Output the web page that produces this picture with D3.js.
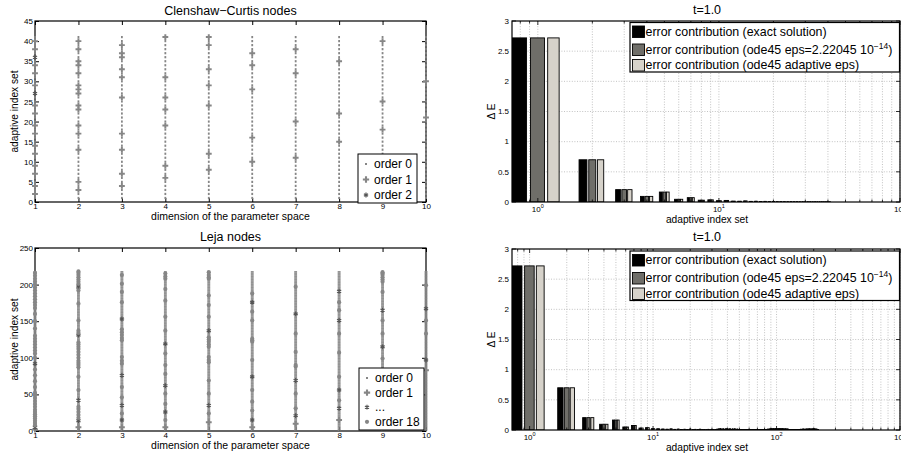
<!DOCTYPE html>
<html>
<head>
<meta charset="utf-8">
<script src="https://cdn.jsdelivr.net/npm/d3@7"></script>
<style>
  body { margin: 0; background: #fff; }
  text { font-family: "Liberation Sans", Arial, Helvetica, sans-serif; }
</style>
</head>
<body>
<div id="chart"></div>
<script>
// ---- data ----
const dims = [1, 2, 3, 4, 5, 6, 7, 8, 9, 10];
const ccCount = 41;
const lejaCount = 218;
const ccYTicks = [0, 5, 10, 15, 20, 25, 30, 35, 40, 45];
const lejaYTicks = [0, 50, 100, 150, 200, 250];
const errYTicks = [0, 0.5, 1, 1.5, 2, 2.5, 3];
const errYLabels = ["0", "0.5", "1", "1.5", "2", "2.5", "3"];
const topLogTicks = [1, 10, 100];
const bottomLogTicks = [1, 10, 100, 1000];

// [index set, order] for every refined node of a dimension (others are order 0)
const ccMarks = [
  [[2,1],[4,1],[7,1],[9,1],[12,1],[14,1],[17,1],[19,1],[22,1],[24,1],[27,2],[29,1],[32,1],[34,1],[36,2],[38,1],[40,1]],
  [[3,1],[5,1],[13,1],[17,1],[19,1],[23,1],[24,1],[27,1],[28,1],[29,1],[32,1],[34,1],[35,1],[38,1],[40,1]],
  [[4,1],[7,1],[13,1],[17,1],[26,1],[31,1],[33,1],[36,1],[37,1],[39,1]],
  [[6,1],[9,1],[19,1],[23,1],[26,1],[31,1],[41,1]],
  [[8,1],[12,1],[24,1],[29,1],[33,1],[39,1],[41,1]],
  [[10,1],[16,1],[28,1],[34,1],[37,1]],
  [[11,1],[20,1],[32,1],[38,1]],
  [[15,1],[22,1],[35,1]],
  [[18,1],[25,1],[40,1]],
  [[21,1],[30,1]]
];

const lejaMarks = [
  [[2,1],[5,2],[8,3],[11,4],[14,5],[17,6],[20,7],[23,8],[26,9],[29,10],[33,11],[37,12],[41,13],[45,14],[49,15],[52,16],[60,3],[68,4],[76,5],[84,6],[92,2],[100,7],[106,8],[110,9],[114,10],[118,11],[122,12],[126,13],[130,14],[140,5],[150,6],[160,3],[168,7],[172,8],[176,9],[180,10],[184,11],[188,12],[192,13],[196,14],[200,15],[204,16],[208,17],[212,18],[216,4]],
  [[5,1],[14,2],[18,3],[22,4],[26,5],[30,3],[33,6],[42,2],[56,3],[74,4],[87,3],[90,5],[93,6],[96,7],[100,4],[104,8],[108,5],[112,9],[115,6],[118,10],[121,3],[131,2],[134,4],[137,3],[151,5],[174,4],[192,3],[195,5],[198,2],[201,6],[204,4],[207,8],[210,3],[213,10],[216,18],[218,7]],
  [[5,1],[15,2],[24,3],[35,2],[46,4],[60,3],[76,2],[92,5],[96,6],[101,3],[124,4],[127,7],[131,5],[135,8],[139,3],[153,2],[176,4],[190,3],[201,5],[213,6]],
  [[5,1],[15,3],[26,2],[37,4],[51,3],[62,2],[78,5],[90,4],[106,3],[119,2],[137,6],[156,4],[178,3],[194,5],[208,7],[211,8],[215,6]],
  [[12,1],[24,3],[35,2],[51,4],[69,3],[94,5],[97,6],[101,4],[115,3],[118,7],[122,8],[125,5],[128,6],[137,2],[156,4],[172,3],[185,5],[208,6],[210,7],[213,9],[217,8]],
  [[5,1],[15,2],[28,3],[40,4],[56,3],[74,2],[97,5],[122,6],[124,9],[126,7],[151,3],[163,4],[176,2],[188,5]],
  [[10,1],[21,2],[31,3],[51,4],[69,2],[88,5],[90,6],[108,3],[133,4],[160,2],[197,5]],
  [[15,1],[31,2],[42,3],[56,2],[74,4],[107,3],[133,5],[151,2],[165,4],[176,3],[191,2]],
  [[65,1],[81,2],[99,3],[115,2],[133,4],[151,3],[165,2],[190,5],[204,6],[207,4],[210,7],[213,5],[215,8],[217,3]],
  [[83,1],[97,2],[133,3],[151,4],[167,2],[199,5]]
];

// error contributions, Clenshaw-Curtis run (41 index sets)
const ccErrExact = [2.72,0.70,0.205,0.093,0.165,0.045,0.072,0.030,0.036,0.022,0.026,0.014,0.012,0.018,0.010,0.012,0.008,0.010,0.007,0.008,0.006,0.007,0.005,0.004,0.006,0.004,0.005,0.003,0.004,0.003,0.003,0.004,0.002,0.003,0.002,0.002,0.003,0.002,0.002,0.002,0.001];
const ccErrEps   = [2.72,0.70,0.205,0.093,0.165,0.045,0.072,0.030,0.036,0.022,0.026,0.014,0.012,0.018,0.010,0.012,0.008,0.010,0.007,0.008,0.006,0.007,0.005,0.004,0.006,0.004,0.005,0.003,0.004,0.003,0.003,0.004,0.002,0.003,0.002,0.002,0.003,0.002,0.002,0.002,0.001];
const ccErrAdapt = [2.72,0.70,0.205,0.093,0.165,0.045,0.072,0.030,0.036,0.022,0.026,0.014,0.012,0.018,0.010,0.012,0.008,0.010,0.007,0.008,0.006,0.007,0.005,0.004,0.006,0.004,0.005,0.003,0.004,0.003,0.003,0.004,0.002,0.003,0.002,0.002,0.003,0.002,0.002,0.002,0.001];

// error contributions, Leja run (218 index sets): first 12 per series, then a common tail
const lejaErrExactHead = [2.72,0.70,0.205,0.095,0.165,0.050,0.075,0.032,0.038,0.022,0.020,0.015];
const lejaErrEpsHead   = [2.72,0.70,0.205,0.095,0.165,0.050,0.075,0.032,0.038,0.022,0.020,0.015];
const lejaErrAdaptHead = [2.72,0.70,0.205,0.095,0.165,0.050,0.075,0.032,0.038,0.022,0.020,0.015];
const lejaErrTail = [
  0.012,0.018,0.010,0.014,0.008,0.011,0.009,0.013,0.007,0.010,0.008,0.012,0.006,0.009,0.007,0.010,0.006,0.008,0.007,0.009,
  0.012,0.016,0.022,0.014,0.018,0.011,0.020,0.015,0.013,0.019,0.010,0.016,0.012,0.018,0.009,0.014,0.007,0.010,0.006,0.008,
  0.005,0.007,0.006,0.005,0.008,0.004,0.006,0.005,0.007,0.004,0.005,0.006,0.004,0.005,0.003,0.006,0.004,0.005,0.003,0.004,
  0.005,0.004,0.006,0.003,0.005,0.004,0.006,0.005,0.007,0.006,0.008,0.010,0.012,0.009,0.014,0.011,0.016,0.013,0.018,0.012,
  0.015,0.020,0.013,0.017,0.011,0.016,0.022,0.014,0.019,0.012,0.017,0.013,0.021,0.015,0.011,0.018,0.014,0.016,0.012,0.019,
  0.013,0.015,0.010,0.014,0.012,0.017,0.009,0.013,0.011,0.015,0.008,0.012,0.010,0.009,0.007,0.008,0.006,0.007,0.005,0.006,
  0.005,0.004,0.006,0.004,0.005,0.003,0.004,0.005,0.003,0.004,0.003,0.005,0.004,0.003,0.004,0.005,0.006,0.005,0.007,0.008,
  0.006,0.009,0.007,0.010,0.008,0.011,0.007,0.009,0.008,0.012,0.010,0.009,0.013,0.011,0.008,0.010,0.009,0.012,0.008,0.010,
  0.011,0.009,0.013,0.010,0.012,0.008,0.011,0.014,0.010,0.012,0.009,0.013,0.011,0.015,0.010,0.012,0.009,0.011,0.013,0.010,
  0.012,0.009,0.011,0.014,0.010,0.013,0.008,0.011,0.016,0.012,0.010,0.013,0.009,0.012,0.011,0.008,0.010,0.012,0.009,0.011,
  0.008,0.010,0.007,0.009,0.006,0.008
];
const lejaErrExact = lejaErrExactHead.concat(lejaErrTail);
const lejaErrEps = lejaErrEpsHead.concat(lejaErrTail);
const lejaErrAdapt = lejaErrAdaptHead.concat(lejaErrTail);

const seriesNames = [
  "error contribution (exact solution)",
  "error contribution (ode45 eps=2.22045 10",
  "error contribution (ode45 adaptive eps)"
];
const seriesColors = ["#000000", "#6f6e69", "#d6d2ca"];

// ---- drawing ----
const W = 901, H = 457;
const svg = d3.select("#chart").append("svg").attr("width", W).attr("height", H);
svg.append("rect").attr("width", W).attr("height", H).attr("fill", "#fff");

const gray = "#868686";

function drawMarker(g, cx, cy, order, big) {
  if (order === 1) {
    g.append("path").attr("transform", `translate(${cx},${cy})`)
      .attr("d", d3.symbol(d3.symbolCross, big ? 22 : 19)()).attr("fill", gray);
  } else if (order === 2) {
    g.append("path").attr("transform", `translate(${cx},${cy})`)
      .attr("d", d3.symbol(d3.symbolAsterisk, 16)())
      .attr("fill", "none").attr("stroke", "#555").attr("stroke-width", 1.2);
  } else {
    g.append("circle").attr("cx", cx).attr("cy", cy).attr("r", 2.1).attr("fill", gray);
  }
}

function nodesPanel(o) {
  const x = d3.scaleLinear().domain([1, 10]).range([35, 426]);
  const y = d3.scaleLinear().domain([0, o.ymax]).range([o.bottom, o.top]);
  const g = svg.append("g");

  // frame and inward ticks
  g.append("rect").attr("x", 35).attr("y", o.top).attr("width", 391).attr("height", o.bottom - o.top)
    .attr("fill", "none").attr("stroke", "#000").attr("stroke-width", 1.2);
  g.append("g").attr("transform", `translate(0,${o.bottom})`)
    .call(d3.axisBottom(x).tickValues(dims).tickSize(-4).tickPadding(1.5).tickFormat(d3.format("d")));
  g.append("g").attr("transform", `translate(0,${o.top})`)
    .call(d3.axisTop(x).tickValues(dims).tickSize(-4).tickFormat(""));
  g.append("g").attr("transform", "translate(35,0)")
    .call(d3.axisLeft(y).tickValues(o.yticks).tickSize(-4).tickPadding(2));
  g.append("g").attr("transform", "translate(426,0)")
    .call(d3.axisRight(y).tickValues(o.yticks).tickSize(-4).tickFormat(""));
  g.selectAll(".domain").remove();
  g.selectAll(".tick line").attr("stroke", "#000");
  g.selectAll(".tick text").attr("font-size", 8).attr("fill", "#000").attr("font-family", "Liberation Sans, Arial, sans-serif");

  // order 0 columns
  dims.forEach((d, i) => {
    const marked = new Set(o.marks[i].map(m => m[0]));
    const zeros = d3.range(1, o.count + 1).filter(k => !marked.has(k));
    g.append("g").selectAll("rect").data(zeros).join("rect")
      .attr("x", x(d) - o.dotW / 2).attr("y", k => y(k) - o.dotH / 2)
      .attr("width", o.dotW).attr("height", o.dotH).attr("fill", gray);
  });
  // refined nodes
  const mg = g.append("g");
  dims.forEach((d, i) => {
    o.marks[i].forEach(m => drawMarker(mg, x(d), y(m[0]), m[1], false));
  });

  // titles
  g.append("text").attr("x", 230.5).attr("y", o.titleY).attr("text-anchor", "middle")
    .attr("font-size", 12.5).text(o.title);
  g.append("text").attr("x", 230.5).attr("y", o.xlabY).attr("text-anchor", "middle")
    .attr("font-size", 10.5).text("dimension of the parameter space");
  g.append("text").attr("transform", `translate(18,${(o.top + o.bottom) / 2}) rotate(-90)`)
    .attr("text-anchor", "middle").attr("font-size", 10.2).text("adaptive index set");

  // legend
  const lg = g.append("g");
  lg.append("rect").attr("x", o.leg.x).attr("y", o.leg.y).attr("width", o.leg.w).attr("height", o.leg.h)
    .attr("fill", "#fff").attr("stroke", "#000").attr("stroke-width", 1);
  o.leg.rows.forEach((r, j) => {
    const cy = o.leg.y + 10 + j * o.leg.dy;
    if (r.order === 0) {
      lg.append("rect").attr("x", o.leg.x + 7).attr("y", cy - 1).attr("width", 2).attr("height", 2).attr("fill", gray);
    } else {
      drawMarker(lg, o.leg.x + 8, cy, r.order, true);
    }
    lg.append("text").attr("x", o.leg.x + 16).attr("y", cy + 4.2).attr("font-size", 12).text(r.label);
  });
}

nodesPanel({
  top: 21, bottom: 202, ymax: 45, yticks: ccYTicks, count: ccCount, marks: ccMarks,
  dotW: 1.8, dotH: 2.2, title: "Clenshaw\u2212Curtis nodes", titleY: 15, xlabY: 219.5,
  leg: { x: 358, y: 154, w: 59, h: 49, dy: 15.5,
    rows: [{order: 0, label: "order 0"}, {order: 1, label: "order 1"}, {order: 2, label: "order 2"}] }
});

nodesPanel({
  top: 248, bottom: 431, ymax: 250, yticks: lejaYTicks, count: lejaCount, marks: lejaMarks,
  dotW: 2.8, dotH: 0.85, title: "Leja nodes", titleY: 241, xlabY: 449,
  leg: { x: 359, y: 368, w: 65, h: 62, dy: 14.6,
    rows: [{order: 0, label: "order 0"}, {order: 1, label: "order 1"}, {order: 2, label: "..."}, {order: 18, label: "order 18"}] }
});

function errPanel(o) {
  const x = d3.scaleLog().domain([0.72, o.xmax]).range([512, 900]);
  const y = d3.scaleLinear().domain([0, 3]).range([o.bottom, o.top]);
  const g = svg.append("g");
  const clipId = "clip" + o.top;
  svg.append("clipPath").attr("id", clipId).append("rect")
    .attr("x", 512).attr("y", o.top).attr("width", 388).attr("height", o.bottom - o.top);

  // grid
  const allTicks = x.ticks();
  const grid = g.append("g").attr("stroke", "#b4b4b4").attr("stroke-width", 0.8).attr("stroke-dasharray", "1,1.6");
  grid.selectAll("line.v").data(allTicks).join("line").attr("class", "v")
    .attr("x1", d => x(d)).attr("x2", d => x(d)).attr("y1", o.top).attr("y2", o.bottom);
  grid.selectAll("line.h").data(errYTicks.slice(1, -1)).join("line").attr("class", "h")
    .attr("x1", 512).attr("x2", 900).attr("y1", d => y(d)).attr("y2", d => y(d));

  // bars
  const slot = 0.6667 / 3, bw = slot * 0.8;
  const bars = g.append("g").attr("clip-path", `url(#${clipId})`);
  o.series.forEach((vals, s) => {
    bars.append("g").selectAll("rect").data(vals).join("rect")
      .attr("x", (v, i) => x(i + 1 + (s - 1) * slot - bw / 2))
      .attr("width", (v, i) => x(i + 1 + (s - 1) * slot + bw / 2) - x(i + 1 + (s - 1) * slot - bw / 2))
      .attr("y", v => y(v)).attr("height", v => o.bottom - y(v))
      .attr("fill", seriesColors[s]).attr("stroke", "#000").attr("stroke-width", 0.9);
  });

  // frame + ticks
  g.append("rect").attr("x", 512).attr("y", o.top).attr("width", 388).attr("height", o.bottom - o.top)
    .attr("fill", "none").attr("stroke", "#000").attr("stroke-width", 1.2);
  const tk = g.append("g").attr("stroke", "#000").attr("stroke-width", 0.8);
  allTicks.forEach(t => {
    const len = o.majors.includes(t) ? 4 : 2.5;
    tk.append("line").attr("x1", x(t)).attr("x2", x(t)).attr("y1", o.bottom).attr("y2", o.bottom - len);
    tk.append("line").attr("x1", x(t)).attr("x2", x(t)).attr("y1", o.top).attr("y2", o.top + len);
  });
  errYTicks.forEach(t => {
    tk.append("line").attr("x1", 512).attr("x2", 516).attr("y1", y(t)).attr("y2", y(t));
    tk.append("line").attr("x1", 896).attr("x2", 900).attr("y1", y(t)).attr("y2", y(t));
  });
  errYTicks.forEach((t, j) => {
    g.append("text").attr("x", 509).attr("y", y(t) + 2.8).attr("text-anchor", "end")
      .attr("font-size", 8).text(errYLabels[j]);
  });
  o.majors.forEach(t => {
    const lab = g.append("text").attr("x", x(t)).attr("y", o.bottom + 10).attr("text-anchor", "middle").attr("font-size", 8);
    lab.append("tspan").text("10");
    lab.append("tspan").attr("dy", -4).attr("font-size", 5.5).text(Math.round(Math.log10(t)));
  });

  g.append("text").attr("x", 707).attr("y", o.titleY).attr("text-anchor", "middle").attr("font-size", 12.5).text("t=1.0");
  g.append("text").attr("x", 707).attr("y", o.xlabY).attr("text-anchor", "middle").attr("font-size", 10.2).text("adaptive index set");
  g.append("text").attr("transform", `translate(495,${(o.top + o.bottom) / 2}) rotate(-90)`)
    .attr("text-anchor", "middle").attr("font-size", 10.2).text("\u0394 E");

  // legend
  const lg = g.append("g");
  lg.append("rect").attr("x", 630).attr("y", o.leg.y).attr("width", 269.5).attr("height", o.leg.h)
    .attr("fill", "#fff").attr("stroke", "#000").attr("stroke-width", 1.2);
  o.leg.rows.forEach((cy, s) => {
    lg.append("rect").attr("x", 632.5).attr("y", cy - 5.5).attr("width", 12).attr("height", 11.5)
      .attr("fill", seriesColors[s]).attr("stroke", "#000").attr("stroke-width", 0.9);
    const t = lg.append("text").attr("x", 645.5).attr("y", cy + 4.3).attr("font-size", 12.4).text(seriesNames[s]);
    if (s === 1) {
      t.append("tspan").attr("dy", -5).attr("font-size", 8.5).text("\u221214");
      t.append("tspan").attr("dy", 5).text(")");
    }
  });
}

errPanel({
  top: 21, bottom: 202, xmax: 100, majors: topLogTicks, titleY: 14, xlabY: 222.5,
  series: [ccErrExact, ccErrEps, ccErrAdapt],
  leg: { y: 22.5, h: 49.5, rows: [31.5, 49.5, 65] }
});

errPanel({
  top: 249, bottom: 430, xmax: 1000, majors: bottomLogTicks, titleY: 241, xlabY: 451,
  series: [lejaErrExact, lejaErrEps, lejaErrAdapt],
  leg: { y: 251, h: 49.5, rows: [260, 278, 293.5] }
});
</script>
</body>
</html>
